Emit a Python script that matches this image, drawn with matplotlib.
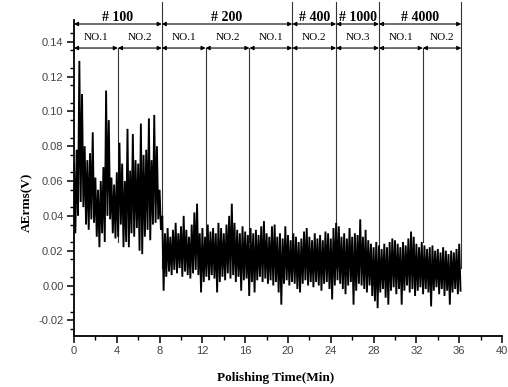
import numpy as np
import matplotlib
matplotlib.use("Agg")
import matplotlib.pyplot as plt

# ---------------- data (values x1e-3 V) ----------------
# envelope of the AErms signal, sampled every 0.25 min from 0 to 36 min
ae_high = [70, 78, 129, 110, 80, 72, 76, 88, 62, 55, 60, 68, 112, 95, 62, 58,
           65, 82, 70, 60, 90, 66, 87, 72, 70, 93, 75, 78, 96, 72, 98, 80, 55, 40,
           30, 33, 28, 32, 36, 30, 34, 40, 32, 28, 35, 42, 47, 30, 33, 28,
           35, 31, 33, 30, 36, 33, 30, 35, 40, 47, 36, 32, 30, 34, 31, 29,
           33, 30, 32, 29, 34, 37, 30, 28, 34, 35, 28, 30, 27, 34, 29, 26,
           30, 28, 25, 27, 31, 33, 28, 26, 30, 27, 29, 26, 31, 30, 27, 33,
           36, 34, 28, 30, 27, 33, 28, 30, 29, 38, 28, 32, 26, 24, 22, 25,
           23, 21, 24, 22, 25, 27, 26, 24, 22, 25, 23, 27, 31, 28, 24, 22,
           25, 23, 21, 22, 23, 20, 21, 19, 22, 20, 18, 20, 19, 21, 24]
ae_low = [30, 40, 48, 45, 35, 32, 38, 36, 28, 22, 30, 25, 40, 38, 30, 27,
          28, 35, 22, 25, 22, 30, 28, 33, 20, 18, 28, 32, 26, 35, 36, 38, 32, -3,
          5, 8, 6, 9, 7, 10, 5, 8, 6, 4, 7, 9, 6, -4, 2, 5,
          3, 6, 4, -4, 2, 5, 3, 7, 4, 6, 2, 5, -3, 3, 4, -6,
          2, -4, 3, 5, 2, 4, 1, 3, 0, 2, -4, -11, 1, 3, 0, 2,
          1, -2, -4, 1, 3, 0, 2, -1, 2, 0, -3, 1, 2, -2, -8, 0,
          3, 1, -2, -5, 0, 2, -11, -3, 1, 0, -2, -4, 0, -6, -9, -13,
          -4, -2, -7, -11, -3, -1, -5, -2, -11, -3, 0, -4, -2, -6, -3, -1,
          -5, -2, -4, -12, -3, -1, -5, -2, -6, -3, -11, -4, -2, -5, -3]

grit_labels = ["# 100", "# 200", "# 400", "# 1000", "# 4000"]
grit_bounds = [0.0, 8.2, 20.4, 24.5, 28.5, 36.2]
wheel_labels = ["NO.1", "NO.2", "NO.1", "NO.2", "NO.1", "NO.2", "NO.3", "NO.1", "NO.2"]
wheel_bounds = [0.0, 4.1, 8.2, 12.3, 16.4, 20.4, 24.5, 28.5, 32.6, 36.2]

x_ticks = [0, 4, 8, 12, 16, 20, 24, 28, 32, 36, 40]
y_ticks = [-0.02, 0.00, 0.02, 0.04, 0.06, 0.08, 0.10, 0.12, 0.14]

# ---------------- figure ----------------
W, H = 508, 387
fig = plt.figure(figsize=(W / 100, H / 100), dpi=100)
ax = fig.add_axes([74 / W, 51 / H, 428 / W, 316 / H])

hi = np.array(ae_high) / 1000.0
lo = np.array(ae_low) / 1000.0
step = 0.25
t = np.arange(len(hi)) * step
xs = np.empty(2 * len(t))
ys = np.empty(2 * len(t))
xs[0::2] = t
xs[1::2] = t + step / 2
ys[0::2] = hi
ys[1::2] = lo
ax.plot(xs, ys, color="black", lw=1.35, solid_joinstyle="miter", zorder=3)

ax.set_xlim(0, 40)
ax.set_ylim(-0.029, 0.1525)
ax.set_xticks(x_ticks)
ax.set_xticklabels([str(v) for v in x_ticks])
ax.set_yticks(y_ticks)
ax.set_yticklabels([f"{v:.2f}" for v in y_ticks])
ax.set_xticks(np.arange(2, 40, 4), minor=True)
ax.set_yticks(np.arange(-0.025, 0.15, 0.01), minor=True)

for s in ["top", "right"]:
    ax.spines[s].set_visible(False)
for s in ["left", "bottom"]:
    ax.spines[s].set_linewidth(1.3)

ax.tick_params(which="major", direction="out", length=5, width=1.1,
               labelsize=8, labelcolor="#444444", pad=2.5)
ax.tick_params(which="minor", direction="out", length=3, width=1.0)
for lab in ax.get_xticklabels() + ax.get_yticklabels():
    lab.set_fontfamily("Liberation Sans")

ax.set_xlabel("Polishing Time(Min)", fontfamily="Liberation Serif",
              fontweight="bold", fontsize=9.5)
ax.set_ylabel("AErms(V)", fontfamily="Liberation Serif",
              fontweight="bold", fontsize=9.5)
ax.xaxis.set_label_coords(0.472, -0.114)
ax.yaxis.set_label_coords(-0.095, 0.424)

# ---------------- annotations ----------------
y_top_line = 0.1628
y_row1 = 0.1502
y_row1_txt = 0.1542
y_row2 = 0.1364
y_row2_txt = 0.1427
line_bottom = 0.01

for b in grit_bounds[1:]:
    ax.plot([b, b], [line_bottom, y_top_line], color="#333333", lw=0.8,
            clip_on=False, zorder=2)
for b in wheel_bounds[1:-1]:
    if b not in grit_bounds:
        ax.plot([b, b], [line_bottom + 0.015, y_row2], color="#333333", lw=0.8,
                clip_on=False, zorder=2)

arrow_kw = dict(arrowstyle="<|-|>", lw=0.8, color="black",
                mutation_scale=6, shrinkA=0, shrinkB=0)
for i, lab in enumerate(grit_labels):
    a, b = grit_bounds[i], grit_bounds[i + 1]
    ax.annotate("", xy=(b, y_row1), xytext=(a, y_row1), arrowprops=arrow_kw,
                annotation_clip=False)
    ax.text((a + b) / 2, y_row1_txt, lab, ha="center", va="center",
            fontfamily="Liberation Serif", fontweight="bold", fontsize=10,
            clip_on=False)
for i, lab in enumerate(wheel_labels):
    a, b = wheel_bounds[i], wheel_bounds[i + 1]
    ax.annotate("", xy=(b, y_row2), xytext=(a, y_row2), arrowprops=arrow_kw,
                annotation_clip=False)
    ax.text((a + b) / 2, y_row2_txt, lab, ha="center", va="center",
            fontfamily="Liberation Serif", fontsize=8, clip_on=False)

fig.savefig("out.png", dpi=100)
